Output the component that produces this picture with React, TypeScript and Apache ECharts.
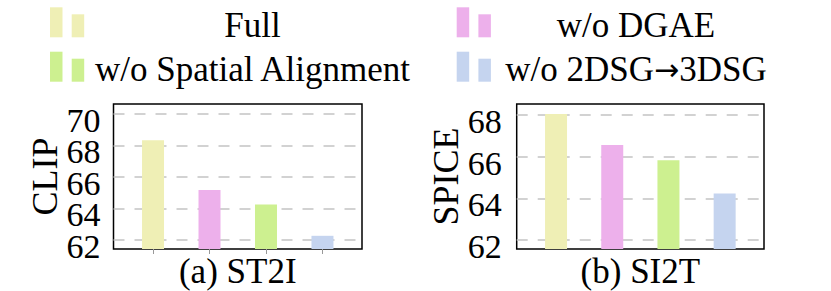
import React, { useEffect, useRef } from "react";
import * as echarts from "echarts";

const methods = ["Full", "w/o DGAE", "w/o Spatial Alignment", "w/o 2DSG{arr|→}3DSG"];
const colors = ["#EFEFB5", "#EDB0EB", "#CDF090", "#C5D4EF"];
const positions = [0, 1, 2, 3];
const st2iValues = [68.34, 65.16, 64.25, 62.25];
const si2tValues = [68.05, 66.56, 65.83, 64.24];
const st2iTicks = [62, 64, 66, 68, 70];
const si2tTicks = [62, 64, 66, 68];
const panelTitles = ["(a) ST2I", "(b) SI2T"];
const metricNames = ["CLIP", "SPICE"];

const FONT = "'Liberation Serif', 'Times New Roman', serif";

export default function App() {
  const ref = useRef<HTMLDivElement>(null);
  useEffect(() => {
    if (!ref.current) return;
    const chart = echarts.init(ref.current, null, { renderer: "svg" });

    const panels = [
      { values: st2iValues, ticks: st2iTicks, min: 61.41, max: 70.64, left: 113.5, width: 248.5, showTicks: true, labelMargin: 13, nameGap: 50 },
      { values: si2tValues, ticks: si2tTicks, min: 61.57, max: 68.53, left: 516.7, width: 247.3, showTicks: false, labelMargin: 15, nameGap: 53 },
    ];

    const grids = panels.map((p) => ({
      left: p.left,
      top: 104,
      width: p.width,
      height: 145,
      show: true,
      borderColor: "#000",
      borderWidth: 1.5,
      backgroundColor: "transparent",
      containLabel: false,
    }));

    const xAxes = panels.map((p, i) => ({
      type: "value",
      gridIndex: i,
      min: -0.7,
      max: 3.7,
      name: panelTitles[i],
      nameLocation: "middle",
      nameGap: 5,
      nameTextStyle: { fontFamily: FONT, fontSize: 35, color: "#000", verticalAlign: "top" },
      axisLine: { show: false },
      axisTick: {
        show: p.showTicks,
        customValues: positions,
        length: 5,
        lineStyle: { color: "#999", width: 1 },
      },
      axisLabel: { show: false },
      splitLine: { show: false },
    }));

    const labelStyle = (p: any, values: number[]) => ({
      customValues: values,
      showMinLabel: true,
      showMaxLabel: true,
      hideOverlap: false,
      fontFamily: FONT,
      fontSize: 34,
      color: "#000",
      margin: p.labelMargin,
      verticalAlign: "top",
      lineHeight: 13,
    });

    // primary axes: gridlines + every other label; secondary axes: remaining labels
    const yAxes: any[] = [];
    panels.forEach((p, i) => {
      yAxes.push({
        type: "value",
        gridIndex: i,
        min: p.min,
        max: p.max,
        name: metricNames[i],
        nameLocation: "middle",
        nameRotate: 90,
        nameGap: p.nameGap,
        nameTextStyle: { fontFamily: FONT, fontSize: 36, color: "#000" },
        axisLine: { show: false },
        axisTick: { show: false, customValues: p.ticks },
        axisLabel: labelStyle(p, p.ticks.filter((_: number, k: number) => k % 2 === 0)),
        splitLine: {
          show: true,
          lineStyle: { color: "#c4c4c4", width: 1.5, type: [11, 10] },
        },
      });
    });
    panels.forEach((p, i) => {
      yAxes.push({
        type: "value",
        gridIndex: i,
        position: "left",
        min: p.min,
        max: p.max,
        axisLine: { show: false },
        axisTick: { show: false, customValues: p.ticks.filter((_: number, k: number) => k % 2 === 1) },
        axisLabel: labelStyle(p, p.ticks.filter((_: number, k: number) => k % 2 === 1)),
        splitLine: { show: false },
      });
    });

    const series = panels.map((p, i) => ({
      type: "bar",
      xAxisIndex: i,
      yAxisIndex: i,
      barWidth: 22,
      z: 3,
      data: p.values.map((v, k) => ({
        value: [positions[k], v],
        itemStyle: { color: colors[k] },
      })),
    }));

    // legend drawn as graphic elements
    const legendCols = [
      { iconX: 50, textCenter: 252.5 },
      { iconX: 456.7, textCenter: 636 },
    ];
    const legendRows = [37.3, 81.7];
    const graphic: any[] = [];
    methods.forEach((m, k) => {
      const col = legendCols[k % 2];
      const bottom = legendRows[Math.floor(k / 2)];
      graphic.push({
        type: "rect",
        shape: { x: col.iconX, y: bottom - 30, width: 12.5, height: 30 },
        style: { fill: colors[k] },
      });
      graphic.push({
        type: "rect",
        shape: { x: col.iconX + 21.7, y: bottom - 23, width: 12.5, height: 23 },
        style: { fill: colors[k] },
      });
      graphic.push({
        type: "text",
        x: col.textCenter,
        y: bottom - 11.8,
        style: {
          text: m,
          fontFamily: FONT,
          fontSize: 35,
          fill: "#000",
          textAlign: "center",
          textVerticalAlign: "middle",
          rich: {
            arr: { fontFamily: "'DejaVu Sans', sans-serif", fontSize: 30, fill: "#000" },
          },
        },
      });
    });

    chart.setOption({
      animation: false,
      grid: grids,
      xAxis: xAxes,
      yAxis: yAxes,
      series,
      graphic,
    } as any);

    return () => chart.dispose();
  }, []);

  return (
    <div
      ref={ref}
      style={{ position: "absolute", left: 0, top: 0, width: 831, height: 291 }}
    />
  );
}
